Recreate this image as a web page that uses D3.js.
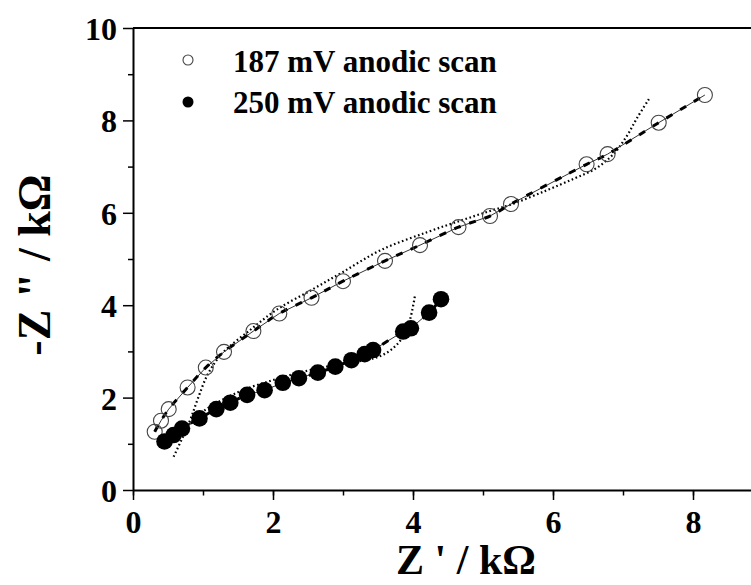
<!DOCTYPE html>
<meta charset="utf-8">
<script src="https://d3js.org/d3.v7.min.js"></script>
<style>
body { margin: 0; background: #fff; }
svg { display: block; }
text { font-family: "Liberation Serif", "Times New Roman", serif; font-weight: bold; fill: #000; }
</style>
<div id="main"></div>
<script>
// 187 mV anodic scan, measured (open circles)
const x187 = [0.31, 0.40, 0.51, 0.78, 1.04, 1.30, 1.72, 2.09, 2.55, 3.00, 3.60, 4.10, 4.65, 5.10, 5.40, 6.48, 6.78, 7.51, 8.17];
const y187 = [1.26, 1.50, 1.75, 2.22, 2.65, 2.99, 3.44, 3.82, 4.16, 4.52, 4.96, 5.30, 5.69, 5.93, 6.19, 7.05, 7.27, 7.95, 8.55];
// 250 mV anodic scan, measured (filled circles)
const x250 = [0.45, 0.58, 0.70, 0.95, 1.19, 1.39, 1.63, 1.88, 2.14, 2.37, 2.64, 2.89, 3.12, 3.31, 3.43, 3.86, 3.97, 4.23, 4.40];
const y250 = [1.05, 1.19, 1.33, 1.55, 1.75, 1.89, 2.06, 2.16, 2.32, 2.42, 2.54, 2.67, 2.81, 2.94, 3.03, 3.43, 3.50, 3.84, 4.13];
// dotted model curves
const xDot187 = [0.58, 0.80, 0.92, 1.05, 1.18, 1.30, 1.67, 2.05, 2.55, 3.00, 3.55, 4.20, 4.70, 5.10, 5.40, 5.90, 6.30, 6.60, 6.85, 7.05, 7.20, 7.37];
const yDot187 = [0.72, 1.45, 1.95, 2.45, 2.78, 3.00, 3.46, 3.90, 4.33, 4.72, 5.20, 5.58, 5.84, 6.04, 6.18, 6.48, 6.74, 6.95, 7.25, 7.65, 8.05, 8.46];
const xDot250 = [0.55, 0.80, 1.00, 1.30, 1.60, 2.00, 2.40, 2.80, 3.20, 3.50, 3.70, 3.85, 3.95, 4.03];
const yDot250 = [1.02, 1.42, 1.70, 1.97, 2.18, 2.38, 2.55, 2.68, 2.78, 2.88, 3.05, 3.30, 3.65, 4.22];

const xTicks = [0, 2, 4, 6, 8];
const yTicks = [0, 2, 4, 6, 8, 10];
const legendLabels = ["187 mV anodic scan", "250 mV anodic scan"];

const width = 751, height = 585;
const svg = d3.select("#main").append("svg")
    .attr("width", width)
    .attr("height", height);

const x = d3.scaleLinear().domain([0, 9]).range([133, 763]);
const y = d3.scaleLinear().domain([0, 10]).range([490, 28]);

const zip = (xs, ys) => xs.map((v, i) => [v, ys[i]]);
const d187 = zip(x187, y187), d250 = zip(x250, y250);

// axes
const axisStyle = g => {
  g.select(".domain").attr("stroke-width", 2);
  g.selectAll(".tick line").attr("stroke-width", 1.5);
  g.selectAll(".tick text").style("font-size", "32px");
};

svg.append("g")
    .attr("transform", "translate(0," + y(0) + ")")
    .call(d3.axisBottom(x).tickValues(d3.range(0, 10, 1)).tickSize(5.5).tickFormat(""))
    .call(g => g.select(".domain").remove())
    .call(g => g.selectAll(".tick line").attr("stroke-width", 1.5));
svg.append("g")
    .attr("transform", "translate(0," + y(0) + ")")
    .call(d3.axisBottom(x).tickValues(xTicks).tickSize(10).tickSizeOuter(0).tickPadding(6).tickFormat(d3.format("d")))
    .call(axisStyle)
    .call(g => g.selectAll(".tick text").attr("dy", "0.85em"));

svg.append("g")
    .attr("transform", "translate(" + x(0) + ",0)")
    .call(d3.axisLeft(y).tickValues(d3.range(1, 10, 2)).tickSize(5).tickFormat(""))
    .call(g => g.select(".domain").remove())
    .call(g => g.selectAll(".tick line").attr("stroke-width", 1.5));
svg.append("g")
    .attr("transform", "translate(" + x(0) + ",0)")
    .call(d3.axisLeft(y).tickValues(yTicks).tickSize(10).tickSizeOuter(0).tickPadding(6).tickFormat(d3.format("d")))
    .call(axisStyle)
    .call(g => g.selectAll(".tick text").attr("dy", "0.36em"));

// top frame
svg.append("line")
    .attr("x1", x(0)).attr("x2", x(9))
    .attr("y1", y(10)).attr("y2", y(10))
    .attr("stroke", "#000").attr("stroke-width", 2);

// axis titles
svg.append("text")
    .attr("x", 466).attr("y", 574)
    .attr("text-anchor", "middle")
    .style("font-size", "42px")
    .text("Z ' / k\u03A9");
svg.append("text")
    .attr("transform", "translate(50,265) rotate(-90)")
    .attr("text-anchor", "middle")
    .style("font-size", "46px")
    .text("-Z \" / k\u03A9");

const plot = svg.append("g");
const straight = d3.line().x(d => x(d[0])).y(d => y(d[1]));
const smooth = d3.line().x(d => x(d[0])).y(d => y(d[1])).curve(d3.curveCatmullRom);

// dotted model curves
[zip(xDot187, yDot187), zip(xDot250, yDot250)].forEach(d => {
  plot.append("path").datum(d)
      .attr("d", smooth)
      .attr("fill", "none")
      .attr("stroke", "#000")
      .attr("stroke-width", 2.2)
      .attr("stroke-dasharray", "1.6,2.6");
});

// thin lines through the data
[d187, d250].forEach(d => {
  plot.append("path").datum(d)
      .attr("d", straight)
      .attr("fill", "none")
      .attr("stroke", "#333")
      .attr("stroke-width", 1);
});
// thick dashed fits
[d187, d250].forEach(d => {
  plot.append("path").datum(d)
      .attr("d", smooth)
      .attr("fill", "none")
      .attr("stroke", "#000")
      .attr("stroke-width", 3)
      .attr("stroke-dasharray", "7,9");
});

// markers
plot.selectAll("circle.open").data(d187).enter().append("circle")
    .attr("cx", d => x(d[0])).attr("cy", d => y(d[1]))
    .attr("r", 7.5)
    .attr("fill", "none")
    .attr("stroke", "#444")
    .attr("stroke-width", 1.1);
plot.selectAll("circle.fill").data(d250).enter().append("circle")
    .attr("cx", d => x(d[0])).attr("cy", d => y(d[1]))
    .attr("r", 8.3)
    .attr("fill", "#000");

// legend
const legend = svg.append("g");
legend.append("circle").attr("cx", 188).attr("cy", 60).attr("r", 5)
    .attr("fill", "none").attr("stroke", "#444").attr("stroke-width", 1.1);
legend.append("circle").attr("cx", 188).attr("cy", 102).attr("r", 5.5)
    .attr("fill", "#000");
legend.selectAll("text").data(legendLabels).enter().append("text")
    .attr("x", 233)
    .attr("y", (d, i) => 72 + i * 41)
    .style("font-size", "31px")
    .text(d => d);
</script>
